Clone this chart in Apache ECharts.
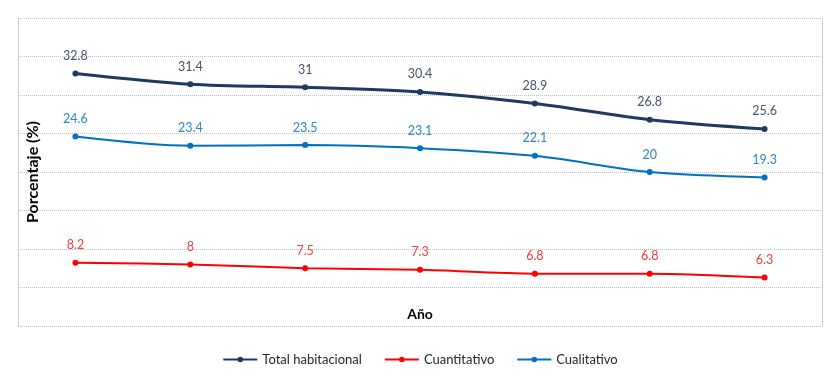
<!DOCTYPE html>
<html>
<head>
<meta charset="utf-8">
<script src="https://cdn.jsdelivr.net/npm/echarts@6/dist/echarts.min.js"></script>
<style>html,body{margin:0;padding:0;background:#fff}#c{width:840px;height:383px}</style>
</head>
<body>
<div id="c"></div>
<script>
var categories = ['1', '2', '3', '4', '5', '6', '7'];
var totalHabitacional = [32.8, 31.4, 31, 30.4, 28.9, 26.8, 25.6];
var cuantitativo = [8.2, 8, 7.5, 7.3, 6.8, 6.8, 6.3];
var cualitativo = [24.6, 23.4, 23.5, 23.1, 22.1, 20, 19.3];
var seriesNames = ['Total habitacional', 'Cuantitativo', 'Cualitativo'];

var FONT = 'Lato, "Open Sans", sans-serif';
var chart = echarts.init(document.getElementById('c'), null, {renderer: 'canvas'});

function mk(name, data, color, labelColor, width) {
  return {
    name: name, type: 'line', data: data, smooth: 0.3,
    symbol: 'circle', symbolSize: 6,
    lineStyle: {color: color, width: width},
    itemStyle: {color: color},
    label: {show: true, position: 'top', distance: 8, color: labelColor,
            fontFamily: FONT, fontSize: 12.5},
    emphasis: {disabled: true}, animation: false
  };
}

chart.setOption({
  animation: false,
  textStyle: {fontFamily: FONT},
  grid: {left: 18, right: 18, top: 18, bottom: 57, containLabel: false},
  legend: {
    data: seriesNames, bottom: 12, left: 'center', itemWidth: 34, itemHeight: 7, itemGap: 22,
    textStyle: {fontFamily: FONT, fontSize: 13, color: '#262626'}
  },
  xAxis: {
    type: 'category', data: categories, boundaryGap: true,
    axisLabel: {show: false}, axisTick: {show: false}, axisLine: {show: false},
    name: 'Año', nameLocation: 'middle', nameGap: -19,
    nameTextStyle: {fontFamily: FONT, fontSize: 14, fontWeight: 'bold', color: '#000'}
  },
  yAxis: [{
    type: 'value', min: 0, max: 40, interval: 5, position: 'left',
    axisLabel: {show: false}, axisTick: {show: false},
    axisLine: {show: true, lineStyle: {color: '#c0c0c0', type: 'dotted', width: 1}},
    splitLine: {show: true, lineStyle: {color: '#c0c0c0', type: 'dotted', width: 1}},
    name: 'Porcentaje (%)', nameLocation: 'middle', nameGap: -23,
    nameTextStyle: {fontFamily: FONT, fontSize: 16, fontWeight: 'bold', color: '#000'}
  }, {
    type: 'value', min: 0, max: 40, interval: 5, position: 'right',
    axisLabel: {show: false}, axisTick: {show: false}, splitLine: {show: false},
    axisLine: {show: true, lineStyle: {color: '#c0c0c0', type: 'dotted', width: 1}}
  }],
  series: [
    mk(seriesNames[0], totalHabitacional, '#1F3864', '#44546A', 3),
    mk(seriesNames[1], cuantitativo, '#FF0000', '#F03C3C', 2),
    mk(seriesNames[2], cualitativo, '#0070C0', '#2E86CB', 2)
  ]
});
</script>
</body>
</html>
